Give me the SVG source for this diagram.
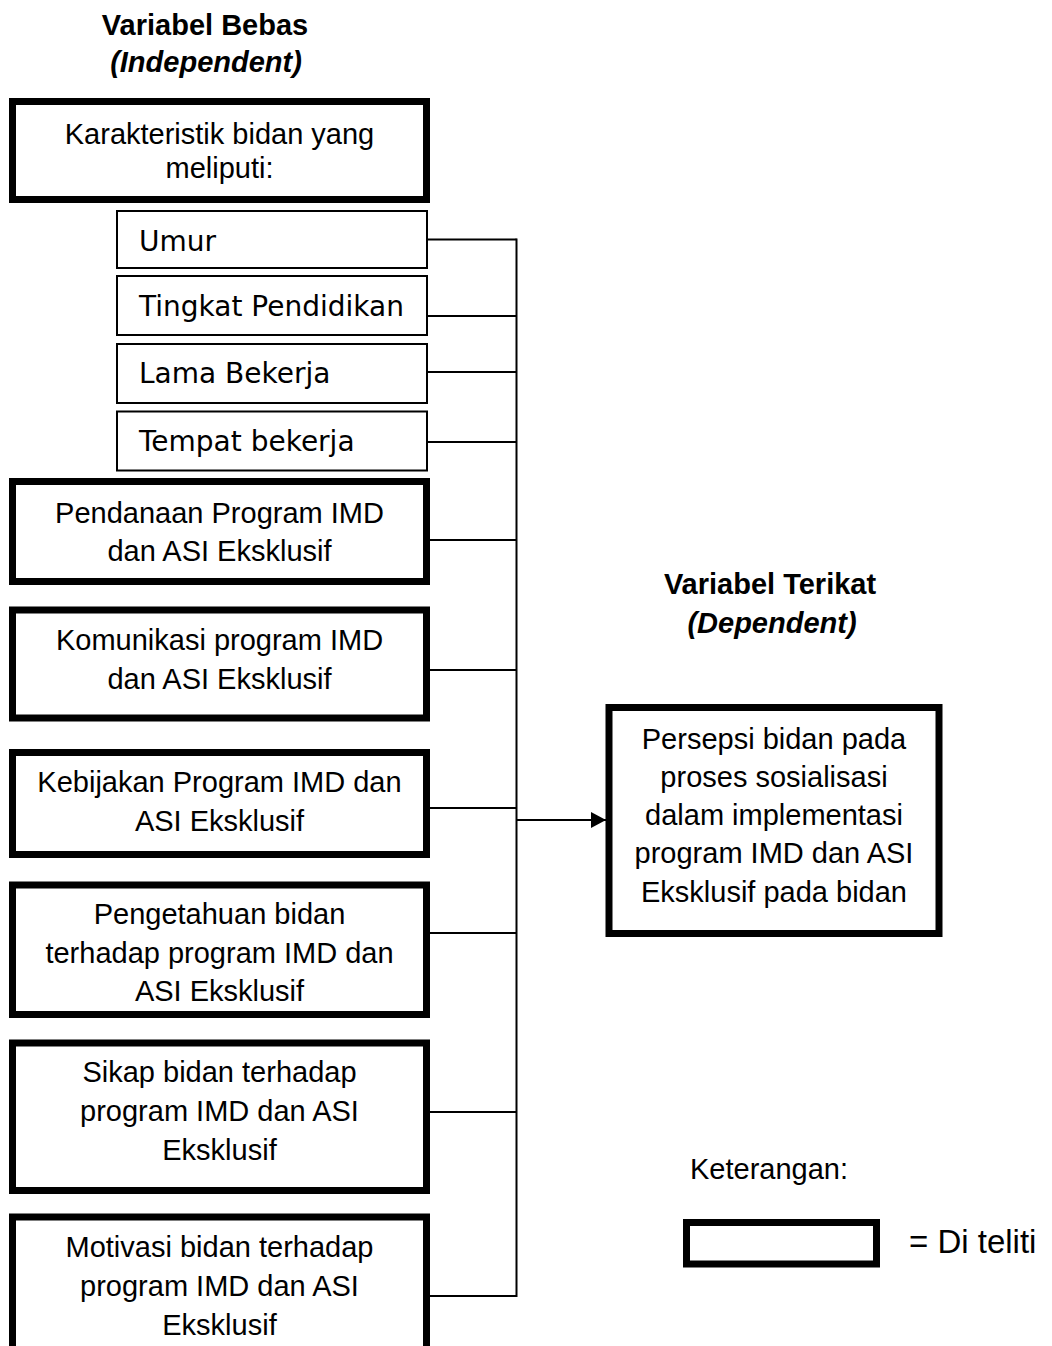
<svg xmlns="http://www.w3.org/2000/svg" width="1052" height="1346" viewBox="0 0 1052 1346">
<defs>
<style>
.t{font-family:"Liberation Sans",Arial,sans-serif;font-size:29px;fill:#000;text-anchor:middle}
.h{font-weight:bold}
.hi{font-weight:bold;font-style:italic}
.s{font-family:"DejaVu Sans","Liberation Sans",sans-serif;font-size:28px;fill:#000}
.big{fill:#fff;stroke:#000;stroke-width:7}
.small{fill:#fff;stroke:#000;stroke-width:2}
.ln{stroke:#000;stroke-width:2;fill:none}
</style>
<marker id="arr" viewBox="0 0 15 16" refX="15" refY="8" markerWidth="15" markerHeight="16" markerUnits="userSpaceOnUse" orient="auto">
<path d="M0,0 L15,8 L0,16 Z" fill="#000"/>
</marker>
</defs>
<rect width="1052" height="1346" fill="#fff"/>

<g id="header-independent">
<text class="t h" x="205" y="35">Variabel Bebas</text>
<text class="t hi" x="206" y="72">(Independent)</text>
</g>

<g id="header-dependent">
<text class="t h" x="770" y="594">Variabel Terikat</text>
<text class="t hi" x="772" y="633">(Dependent)</text>
</g>

<g id="node-karakteristik">
<rect class="big" x="12.5" y="101.5" width="414" height="98"/>
<text class="t" x="219.5" y="144">Karakteristik bidan yang</text>
<text class="t" x="219.5" y="178">meliputi:</text>
</g>

<g id="node-umur">
<rect class="small" x="117" y="211" width="310" height="57"/>
<text class="s" x="139" y="251">Umur</text>
</g>
<g id="node-pendidikan">
<rect class="small" x="117" y="276" width="310" height="59"/>
<text class="s" x="139" y="316">Tingkat Pendidikan</text>
</g>
<g id="node-lama">
<rect class="small" x="117" y="344" width="310" height="59"/>
<text class="s" x="139" y="383">Lama Bekerja</text>
</g>
<g id="node-tempat">
<rect class="small" x="117" y="411.5" width="310" height="59"/>
<text class="s" x="139" y="451">Tempat bekerja</text>
</g>

<g id="node-pendanaan">
<rect class="big" x="12.5" y="481.5" width="414" height="100"/>
<text class="t" x="219.5" y="523">Pendanaan Program IMD</text>
<text class="t" x="219.5" y="561">dan ASI Eksklusif</text>
</g>

<g id="node-komunikasi">
<rect class="big" x="12.5" y="610" width="414" height="108"/>
<text class="t" x="219.5" y="650">Komunikasi program IMD</text>
<text class="t" x="219.5" y="689">dan ASI Eksklusif</text>
</g>

<g id="node-kebijakan">
<rect class="big" x="12.5" y="752.5" width="414" height="102"/>
<text class="t" x="219.5" y="792">Kebijakan Program IMD dan</text>
<text class="t" x="219.5" y="831">ASI Eksklusif</text>
</g>

<g id="node-pengetahuan">
<rect class="big" x="12.5" y="885" width="414" height="129.5"/>
<text class="t" x="219.5" y="924">Pengetahuan bidan</text>
<text class="t" x="219.5" y="963">terhadap program IMD dan</text>
<text class="t" x="219.5" y="1001">ASI Eksklusif</text>
</g>

<g id="node-sikap">
<rect class="big" x="12.5" y="1043" width="414" height="147.5"/>
<text class="t" x="219.5" y="1082">Sikap bidan terhadap</text>
<text class="t" x="219.5" y="1121">program IMD dan ASI</text>
<text class="t" x="219.5" y="1160">Eksklusif</text>
</g>

<g id="node-motivasi">
<rect class="big" x="12.5" y="1217" width="414" height="150"/>
<text class="t" x="219.5" y="1257">Motivasi bidan terhadap</text>
<text class="t" x="219.5" y="1296">program IMD dan ASI</text>
<text class="t" x="219.5" y="1335">Eksklusif</text>
</g>

<g id="node-persepsi">
<rect class="big" x="609" y="707.5" width="330" height="226"/>
<text class="t" x="774" y="749">Persepsi bidan pada</text>
<text class="t" x="774" y="787">proses sosialisasi</text>
<text class="t" x="774" y="825">dalam implementasi</text>
<text class="t" x="774" y="863">program IMD dan ASI</text>
<text class="t" x="774" y="902">Eksklusif pada bidan</text>
</g>

<g id="legend">
<text class="t" x="690" y="1179" style="text-anchor:start">Keterangan:</text>
<rect class="big" x="686.5" y="1222.5" width="190" height="41.5"/>
<text class="t" x="909" y="1253" style="text-anchor:start;font-size:33px">= Di teliti</text>
</g>

<g id="connectors">
<path class="ln" d="M427,239.5 H516.5 M427,316 H516.5 M427,372 H516.5 M427,442 H516.5 M430,540 H516.5 M430,670 H516.5 M430,808 H516.5 M430,933 H516.5 M430,1112 H516.5 M430,1296 H516.5"/>
<path class="ln" d="M516.5,238.5 V1297"/>
<path class="ln" d="M516.5,820 H606" marker-end="url(#arr)"/>
</g>
</svg>
